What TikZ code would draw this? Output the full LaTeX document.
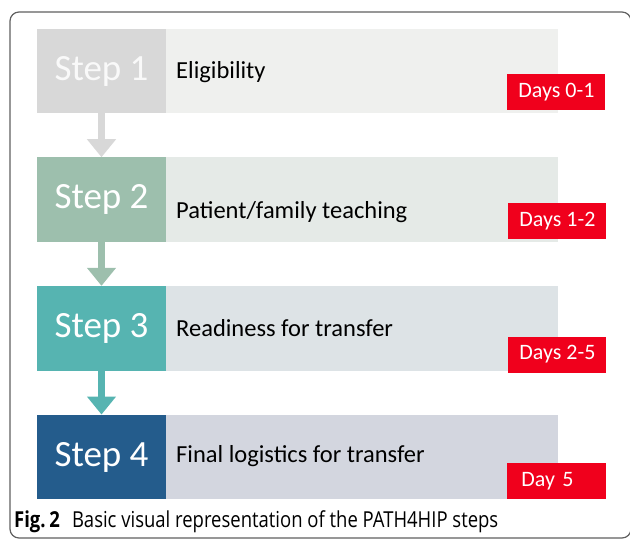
\documentclass[tikz,border=0pt]{standalone}
\usepackage{fontspec}
\setmainfont{Carlito}
\newfontfamily\capfont[FakeStretch=0.84]{Open Sans}
\usepackage{xcolor}
\usepackage{tikz}
\usetikzlibrary{shapes, arrows.meta, positioning}

\definecolor{stepone}{HTML}{D8D8D8}
\definecolor{steptwo}{HTML}{9DBFAD}
\definecolor{stepthree}{HTML}{56B4B1}
\definecolor{stepfour}{HTML}{245C8C}
\definecolor{barone}{HTML}{EFF0EE}
\definecolor{bartwo}{HTML}{E5EAE7}
\definecolor{barthree}{HTML}{DDE3E6}
\definecolor{barfour}{HTML}{D3D6DF}
\definecolor{dayred}{HTML}{F0001C}

\begin{document}
\begin{tikzpicture}[x=1pt, y=-1pt,
    stepbox/.style={rectangle, minimum width=129pt, minimum height=84.5pt, inner sep=0pt, text=white, font=\fontsize{37}{37}\selectfont},
    barbox/.style={rectangle, minimum width=392pt, minimum height=84.5pt, inner sep=0pt},
    tasklabel/.style={anchor=west, inner sep=0pt, font=\fontsize{24.5}{24.5}\selectfont},
    daybox/.style={rectangle, fill=dayred, text=white, minimum width=98pt, minimum height=36pt, inner sep=0pt, anchor=south east, font=\fontsize{22}{22}\selectfont},
    flow/.style={line width=7pt, -{Triangle[width=28pt, length=18pt]}}]
    \useasboundingbox (0,0) rectangle (630,540);
    \draw[gray!75!black, line width=1.2pt, rounded corners=9pt] (10,12) rectangle (631,538);

    % steps
    \node[stepbox, fill=stepone, text=white!95!gray] (s1) at (101.5,71) {Step 1};
    \node[barbox, fill=barone, right=0pt of s1] (b1) {};
    \node[stepbox, fill=steptwo] (s2) at (101.5,199.7) {Step 2};
    \node[barbox, fill=bartwo, right=0pt of s2] (b2) {};
    \node[stepbox, fill=stepthree] (s3) at (101.5,328.3) {Step 3};
    \node[barbox, fill=barthree, right=0pt of s3] (b3) {};
    \node[stepbox, fill=stepfour] (s4) at (101.5,457) {Step 4};
    \node[barbox, fill=barfour, right=0pt of s4] (b4) {};

    % labels
    \node[tasklabel] (t1) at (176,72) {Eligibility};
    \node[tasklabel] (t2) at (176,212) {Patient/family teaching};
    \node[tasklabel] (t3) at (176,328) {Readiness for transfer};
    \node[tasklabel] (t4) at (176,456) {Final logistics for transfer};

    % days
    \node[daybox] (d1) at ([shift={(47pt,3pt)}]b1.south east) {Days 0-1};
    \node[daybox] (d2) at ([shift={(48pt,3pt)}]b2.south east) {Days 1-2};
    \node[daybox] (d3) at ([shift={(48pt,-2pt)}]b3.south east) {Days 2-5};
    \node[daybox, inner xsep=14pt, text width=71pt, align=left] (d4) at ([shift={(48pt,0pt)}]b4.south east) {Day 5};

    % arrows
    \draw[flow, stepone] (s1.south) -- (s2.north);
    \draw[flow, steptwo] (s2.south) -- (s3.north);
    \draw[flow, stepthree] (s3.south) -- (s4.north);

    \node[anchor=west, inner sep=0pt, font=\capfont\fontsize{22}{22}\selectfont] (cap) at (14,522) {\textbf{Fig.\,2}\hspace{0.55em}Basic visual representation of the PATH4HIP steps};
\end{tikzpicture}
\end{document}
